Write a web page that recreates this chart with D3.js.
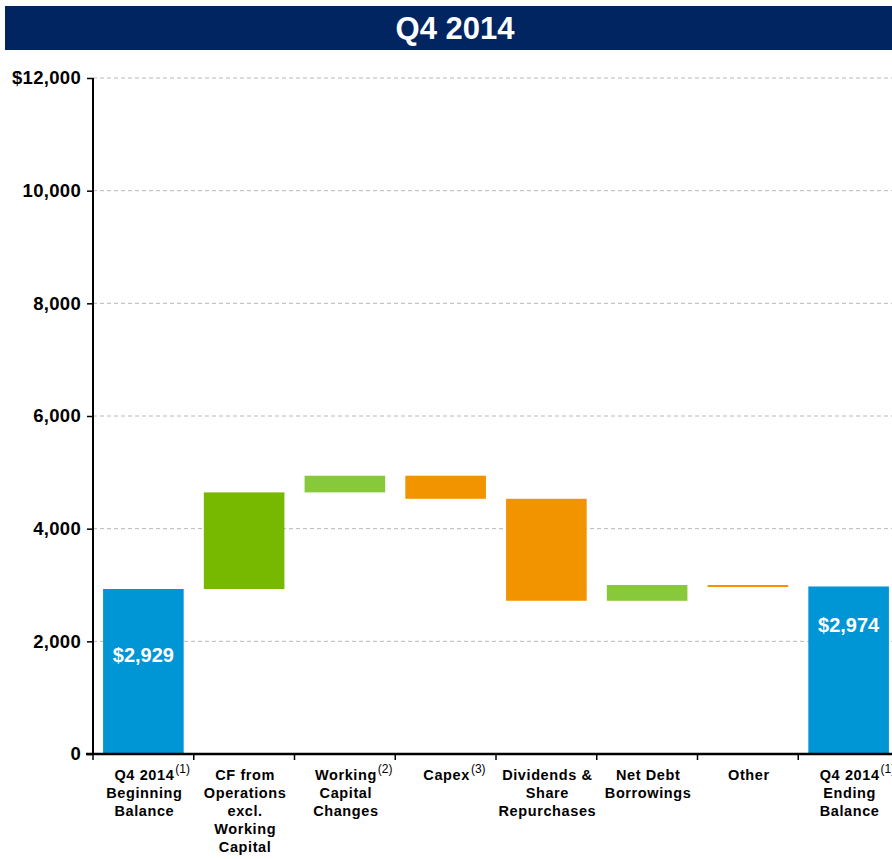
<!DOCTYPE html>
<html>
<head>
<meta charset="utf-8">
<script src="https://cdn.jsdelivr.net/npm/d3@7"></script>
<style>
  body { margin: 0; background: #fff; }
  text { font-family: "Liberation Sans", Arial, sans-serif; font-weight: bold; }
</style>
</head>
<body>
<div id="chart"></div>
<script>
var width = 892, height = 859;

// data
var categories = ["begin", "cfo", "wc", "capex", "div", "debt", "other", "end"];
var labelLines = [
  ["Q4 2014", "Beginning", "Balance"],
  ["CF from", "Operations", "excl.", "Working", "Capital"],
  ["Working", "Capital", "Changes"],
  ["Capex"],
  ["Dividends &", "Share", "Repurchases"],
  ["Net Debt", "Borrowings"],
  ["Other"],
  ["Q4 2014", "Ending", "Balance"]
];
var footnotes = ["(1)", null, "(2)", "(3)", null, null, null, "(1)"];
var changes = [2929, 1715, 296, -410, -1810, 280, -26, 2974];
var kinds = ["total", "up", "up2", "down", "down", "up2", "down", "total"];
var yTicks = [0, 2000, 4000, 6000, 8000, 10000, 12000];

var colors = { total: "#0096d6", up: "#77b800", up2: "#88c93c", down: "#f29400" };

// running waterfall
var running = 0;
var bars = categories.map(function(c, i) {
  var d = { key: c, kind: kinds[i], value: changes[i] };
  if (kinds[i] === "total") { d.y0 = 0; d.y1 = changes[i]; running = changes[i]; }
  else { d.y0 = running; running += changes[i]; d.y1 = running; }
  return d;
});

var svg = d3.select("#chart")
  .append("svg")
    .attr("width", width)
    .attr("height", height);

// title bar
svg.append("rect")
  .attr("x", 5).attr("y", 6)
  .attr("width", 900).attr("height", 44)
  .attr("fill", "#002561");
svg.append("text")
  .attr("x", 455).attr("y", 39)
  .attr("text-anchor", "middle")
  .attr("fill", "#fff")
  .style("font-size", "31px")
  .text("Q4 2014");

var x = d3.scaleBand()
  .domain(categories)
  .range([93, 899])
  .paddingInner(0.2)
  .paddingOuter(0.1);

var y = d3.scaleLinear()
  .domain([0, 12000])
  .range([754, 78]);

// grid
svg.append("g")
  .selectAll("line")
  .data(yTicks.filter(function(t) { return t > 0; }))
  .enter().append("line")
    .attr("x1", 93).attr("x2", width)
    .attr("y1", function(d) { return y(d); })
    .attr("y2", function(d) { return y(d); })
    .attr("stroke", "#b8b8b8")
    .attr("stroke-width", 1)
    .attr("stroke-dasharray", "4,3");

// bars
svg.append("g")
  .selectAll("rect")
  .data(bars)
  .enter().append("rect")
    .attr("x", function(d) { return x(d.key); })
    .attr("width", x.bandwidth())
    .attr("y", function(d) { return y(Math.max(d.y0, d.y1)); })
    .attr("height", function(d) { return Math.max(2, Math.abs(y(d.y0) - y(d.y1))); })
    .attr("fill", function(d) { return colors[d.kind]; });

// value labels on the total bars
var labelOffset = { begin: 0.6, end: 0.77 };
svg.append("g")
  .selectAll("text")
  .data(bars.filter(function(d) { return d.kind === "total"; }))
  .enter().append("text")
    .attr("x", function(d) { return x(d.key) + x.bandwidth() / 2; })
    .attr("y", function(d) { return y(d.y1 * labelOffset[d.key]) + 7; })
    .attr("text-anchor", "middle")
    .attr("fill", "#fff")
    .style("font-size", "20px")
    .text(function(d) { return "$" + d3.format(",")(d.value); });

// y axis
var yAxis = d3.axisLeft(y)
  .tickValues(yTicks)
  .tickSize(6)
  .tickFormat(function(d) { return d === 12000 ? "$12,000" : d3.format(",")(d); });

var gy = svg.append("g")
  .attr("transform", "translate(93,0)")
  .call(yAxis);
gy.select(".domain").attr("stroke", "#000").attr("stroke-width", 2).attr("d", "M0,78V755");
gy.selectAll(".tick line").attr("stroke", "#000").attr("stroke-width", 1.5);
gy.selectAll(".tick text")
  .attr("x", -12)
  .attr("fill", "#000")
  .style("font-size", "18.5px")
  .style("letter-spacing", "0.3px")
  .style("font-family", "'Liberation Sans', Arial, sans-serif")
  .style("font-weight", "bold");

// x axis line with ticks at band edges
svg.append("line")
  .attr("x1", 86).attr("x2", width)
  .attr("y1", 754).attr("y2", 754)
  .attr("stroke", "#000").attr("stroke-width", 2.5);

var edges = categories.map(function(c) { return x(c) - x.step() * x.paddingInner() / 2; });
svg.append("g")
  .selectAll("line")
  .data(edges)
  .enter().append("line")
    .attr("x1", function(d) { return d; }).attr("x2", function(d) { return d; })
    .attr("y1", 754).attr("y2", 760)
    .attr("stroke", "#000").attr("stroke-width", 1.5);

// category labels
var lab = svg.append("g")
  .selectAll("g")
  .data(categories)
  .enter().append("g")
    .attr("transform", function(c) { return "translate(" + (x(c) + x.bandwidth() / 2 + 1) + ",0)"; });

lab.each(function(c, i) {
  var g = d3.select(this);
  var t = g.append("text")
    .attr("text-anchor", "middle")
    .attr("fill", "#000")
    .style("font-size", "14.5px")
    .style("letter-spacing", "0.6px");
  labelLines[i].forEach(function(line, j) {
    t.append("tspan")
      .attr("x", 0)
      .attr("y", 780 + j * 18)
      .text(line);
  });
  if (footnotes[i]) {
    var w = t.select("tspan").node().getComputedTextLength();
    g.append("text")
      .attr("x", w / 2 + 1)
      .attr("y", 773)
      .attr("fill", "#000")
      .style("font-size", "12px")
      .style("font-weight", "normal")
      .text(footnotes[i]);
  }
});
</script>
</body>
</html>
